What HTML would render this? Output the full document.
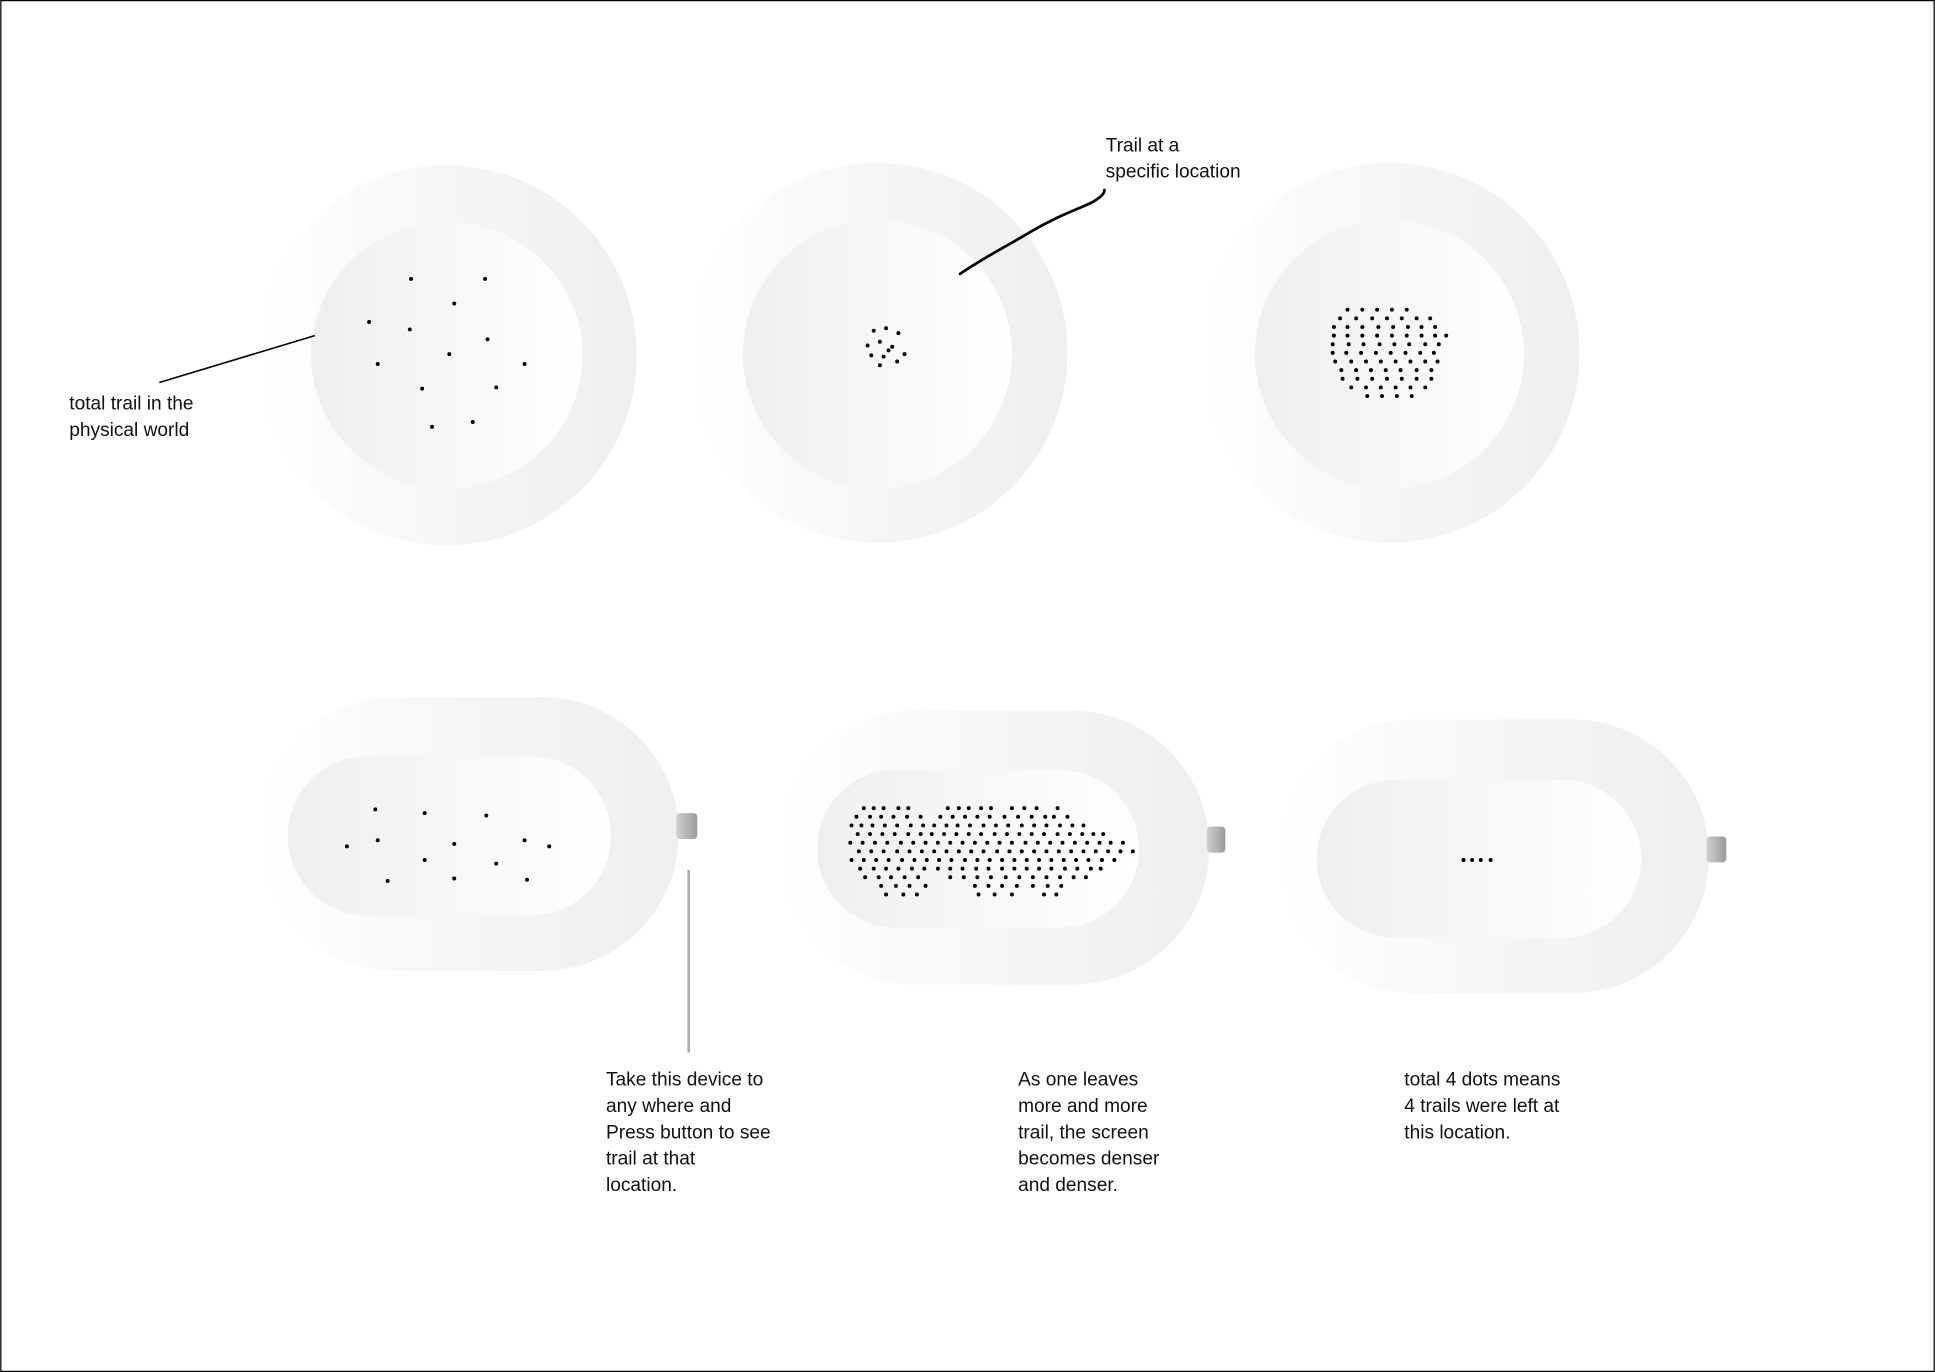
<!DOCTYPE html>
<html><head><meta charset="utf-8">
<style>
html,body{margin:0;padding:0;background:#fff;}
svg{display:block;}
text{font-family:"Liberation Sans",sans-serif;font-size:15.5px;fill:#111;}
</style></head>
<body>
<svg width="1935" height="1372" viewBox="0 0 1568 1112" xmlns="http://www.w3.org/2000/svg">
<defs>
<linearGradient id="outerG" x1="0" x2="1" y1="0" y2="0">
<stop offset="0" stop-color="#ffffff"/><stop offset="0.55" stop-color="#f5f5f5"/><stop offset="1" stop-color="#efefef"/>
</linearGradient>
<linearGradient id="innerG" x1="0" x2="1" y1="0" y2="0">
<stop offset="0" stop-color="#efefef"/><stop offset="1" stop-color="#ffffff"/>
</linearGradient>
<linearGradient id="btnG" x1="0" x2="1" y1="0" y2="0">
<stop offset="0" stop-color="#d0d0d0"/><stop offset="1" stop-color="#9a9a9a"/>
</linearGradient>
</defs>
<rect x="0.5" y="0.5" width="1567" height="1111" fill="#fff" stroke="#000" stroke-width="1"/>

<g>
<circle cx="362" cy="288" r="154" fill="url(#outerG)"/>
<ellipse cx="362" cy="288" rx="110" ry="108" fill="url(#innerG)"/>
</g>
<g>
<circle cx="711" cy="286" r="154" fill="url(#outerG)"/>
<ellipse cx="711" cy="287" rx="109" ry="109" fill="url(#innerG)"/>
</g>
<g>
<circle cx="1126" cy="286" r="154" fill="url(#outerG)"/>
<ellipse cx="1126" cy="287" rx="109" ry="109" fill="url(#innerG)"/>
</g>

<g>
<rect x="209" y="565" width="341" height="222" rx="111" fill="url(#outerG)"/>
<rect x="233" y="613" width="262" height="129" rx="64.5" fill="url(#innerG)"/>
<rect x="548" y="659" width="17" height="21" rx="3" fill="url(#btnG)"/>
</g>
<g>
<rect x="630" y="576" width="350" height="222" rx="111" fill="url(#outerG)"/>
<rect x="662" y="624" width="261" height="128" rx="64" fill="url(#innerG)"/>
<rect x="978" y="670" width="15" height="21" rx="3" fill="url(#btnG)"/>
</g>
<g>
<rect x="1035" y="583" width="350" height="222" rx="111" fill="url(#outerG)"/>
<rect x="1067" y="632" width="263" height="128" rx="64" fill="url(#innerG)"/>
<rect x="1383" y="678" width="16" height="21" rx="3" fill="url(#btnG)"/>
</g>

<g id="dots"></g>

<path d="M129,310 L255,272" stroke="#000" stroke-width="1.3" fill="none"/>
<path d="M778,222 C795,210 815,200 835,188 C855,176 870,171 885,164 C892,160 895,157 895,154" stroke="#000" stroke-width="2.2" fill="none" stroke-linecap="round"/>
<line x1="558" y1="705" x2="558" y2="853" stroke="#aaa" stroke-width="2"/>

<text x="56" y="332">total trail in the<tspan x="56" dy="21.5">physical world</tspan></text>
<text x="896" y="123">Trail at a<tspan x="896" dy="21">specific location</tspan></text>
<text x="491" y="880">Take this device to<tspan x="491" dy="21.3">any where and</tspan><tspan x="491" dy="21.3">Press button to see</tspan><tspan x="491" dy="21.3">trail at that</tspan><tspan x="491" dy="21.3">location.</tspan></text>
<text x="825" y="880">As one leaves<tspan x="825" dy="21.3">more and more</tspan><tspan x="825" dy="21.3">trail, the screen</tspan><tspan x="825" dy="21.3">becomes denser</tspan><tspan x="825" dy="21.3">and denser.</tspan></text>
<text x="1138" y="880">total 4 dots means<tspan x="1138" dy="21.3">4 trails were left at</tspan><tspan x="1138" dy="21.3">this location.</tspan></text>
</svg>
<script>
const dotsCircle1 = [[333,226],[393,226],[368,246],[299,261],[332,267],[395,275],[364,287],[306,295],[425,295],[342,315],[402,314],[350,346],[383,342]];
const dotsCircle2 = [[708,268],[718,266],[728,270],[703,280],[713,277],[723,281],[733,287],[706,288],[716,289],[727,293],[713,296],[720,284]];
const rowsCircle3 = [
 [251,[1092,1104,1116,1128,1140]],
 [258,[1084,1097,1110,1122,1134,1146,1157]],
 [265,[1081,1092,1104,1117,1129,1141,1152,1163]],
 [272,[1079,1090,1102,1114,1126,1138,1150,1161,1170]],
 [279,[1080,1093,1105,1118,1130,1142,1155,1166]],
 [286,[1078,1089,1101,1113,1125,1137,1149,1160]],
 [293,[1082,1095,1107,1119,1131,1143,1155,1165]],
 [300,[1085,1097,1109,1121,1133,1146,1158]],
 [307,[1088,1100,1112,1124,1136,1148,1160]],
 [314,[1093,1105,1117,1129,1141,1153]],
 [321,[1108,1120,1132,1144]]
];
const dotsPill1 = [[304,656],[344,659],[394,661],[281,686],[306,681],[368,684],[425,681],[445,686],[344,697],[402,700],[314,714],[368,712],[427,713]];
const rowsPill2 = [
 [655,[700,708,716,728,736,768,777,785,795,803,820,830,840,857]],
 [662,[692,703,712,722,733,744,760,770,780,790,800,812,823,834,845,852,863]],
 [669,[690,698,707,717,727,738,748,757,767,776,786,797,807,817,828,838,848,859,869,878]],
 [676,[693,703,713,723,734,744,753,763,773,783,793,804,814,824,834,844,855,865,875,884,892]],
 [683,[689,699,709,719,730,740,750,760,770,780,790,800,810,820,831,841,851,861,871,881,891,900,910]],
 [690,[694,704,714,725,735,745,755,765,775,785,795,806,816,826,836,846,856,866,876,886,896,906,916]],
 [697,[690,700,710,720,731,741,751,761,771,782,792,802,812,822,832,842,852,862,872,882,893,903]],
 [704,[695,706,716,726,737,747,758,768,778,789,799,810,820,830,840,850,861,871,882,890]],
 [711,[701,712,722,733,744,770,781,792,803,815,826,837,848,859,870,880]],
 [718,[712,724,735,748,788,799,810,822,835,847,858]],
 [725,[718,732,743,793,806,820,846,856]]
];
const dotsPill3 = [[1186,697],[1193,697],[1200,697],[1208,697]];

const g = document.getElementById('dots');
const NS = 'http://www.w3.org/2000/svg';
function addDot(x, y, name) {
  const c = document.createElementNS(NS, 'circle');
  c.setAttribute('cx', x);
  c.setAttribute('cy', y);
  c.setAttribute('r', 1.6);
  c.setAttribute('fill', '#000');
  
  
  g.appendChild(c);
}
function rowsToDots(rows, name) {
  rows.forEach(function (r, i) {
    r[1].forEach(function (x) { addDot(x + (i % 2 ? 2 : 0), r[0], name); });
  });
}
dotsCircle1.forEach(function (d) { addDot(d[0], d[1], 'trail-dot-total'); });
dotsCircle2.forEach(function (d) { addDot(d[0], d[1], 'trail-dot-specific'); });
rowsToDots(rowsCircle3, 'trail-dot-dense');
dotsPill1.forEach(function (d) { addDot(d[0], d[1], 'trail-dot-pill-1'); });
rowsToDots(rowsPill2, 'trail-dot-pill-2');
dotsPill3.forEach(function (d) { addDot(d[0], d[1], 'trail-dot-pill-3'); });
</script>
</body></html>
